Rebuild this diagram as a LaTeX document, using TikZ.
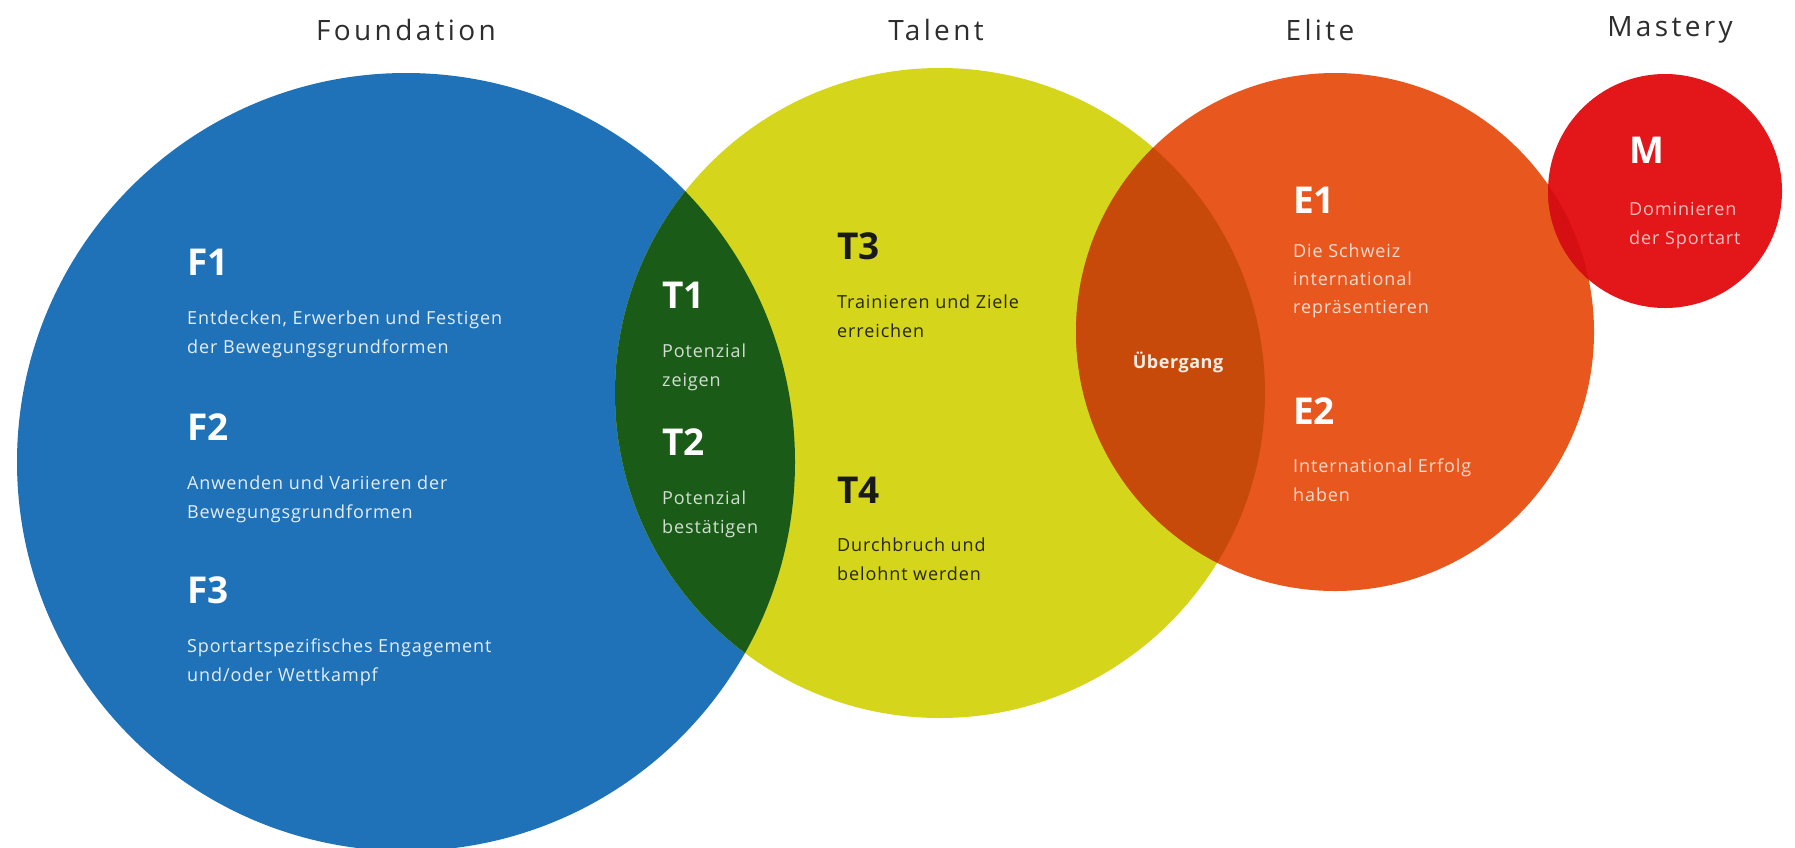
\documentclass[tikz,border=0pt]{standalone}
\usepackage{fontspec}
\setmainfont{Open Sans}
\usetikzlibrary{positioning}

\definecolor{fblue}{RGB}{31,113,184}
\definecolor{tyellow}{RGB}{213,214,27}
\definecolor{tgreen}{RGB}{26,92,23}
\definecolor{eorange}{RGB}{232,88,30}
\definecolor{eoverlap}{RGB}{200,74,10}
\definecolor{mred}{RGB}{227,22,25}
\definecolor{moverlap}{RGB}{214,16,18}
\definecolor{titlegray}{RGB}{45,45,45}

\begin{document}
\begin{tikzpicture}[x=1pt, y=-1pt,
  stage/.style={circle, fill=#1, inner sep=0pt},
  title/.style={font=\fontsize{28}{32}\selectfont\addfontfeatures{LetterSpace=12}, text=titlegray},
  code/.style={font=\fontsize{37}{40}\selectfont\bfseries, anchor=base west, inner sep=0pt, text=#1},
  desc/.style={font=\fontsize{18}{29}\selectfont\addfontfeatures{LetterSpace=5}, anchor=base west, align=left, inner sep=0pt, text=#1},
]
\useasboundingbox (0,0) rectangle (1795,847);
% Circles
\node[stage=fblue, minimum size=778pt] (found) at (406,462) {};
\node[stage=tyellow, minimum size=650pt] (talent) at (940,393) {};
\begin{scope}
  \clip (found.center) circle (389pt);
  \fill[tgreen] (talent.center) circle (325pt);
\end{scope}
\node[stage=eorange, minimum size=518pt] (elite) at (1335,332) {};
\begin{scope}
  \clip (talent.center) circle (325pt);
  \fill[eoverlap] (elite.center) circle (259pt);
\end{scope}
\node[stage=mred, minimum size=234pt] (mastery) at (1665,191) {};
\begin{scope}
  \clip (elite.center) circle (259pt);
  \fill[moverlap] (mastery.center) circle (117pt);
\end{scope}
% Titles
\node[title] (tfound) at (406,30) {Foundation};
\node[title] (ttalent) at (936,30) {Talent};
\node[title] (telite) at (1320,30) {Elite};
\node[title] (tmastery) at (1670,30) {Mastery};
% Foundation (desc nodes sit on their last line)
\node[code=white] (f1) at (187,275) {F1};
\node[desc=white!88!fblue] (f1d) at (187,353) {Entdecken, Erwerben und Festigen\\der Bewegungsgrundformen};
\node[code=white] (f2) at (187,440) {F2};
\node[desc=white!88!fblue] (f2d) at (187,518) {Anwenden und Variieren der\\Bewegungsgrundformen};
\node[code=white] (f3) at (187,603) {F3};
\node[desc=white!88!fblue] (f3d) at (187,681) {Sportartspezifisches Engagement\\und/oder Wettkampf};
% Talent
\node[code=white] (t1) at (662,308) {T1};
\node[desc=white!80!tgreen] (t1d) at (662,386) {Potenzial\\zeigen};
\node[code=white] (t2) at (662,455) {T2};
\node[desc=white!80!tgreen] (t2d) at (662,533) {Potenzial\\bestätigen};
\node[code=black!90] (t3) at (837,259) {T3};
\node[desc=black!82!tyellow] (t3d) at (837,337) {Trainieren und Ziele\\erreichen};
\node[code=black!90] (t4) at (837,503) {T4};
\node[desc=black!82!tyellow] (t4d) at (837,580) {Durchbruch und\\belohnt werden};
% Elite
\node[font=\fontsize{18}{20}\selectfont\bfseries\addfontfeatures{LetterSpace=3}, text=white!90!eoverlap] (ueber) at (1178,362) {Übergang};
\node[code=white] (e1) at (1293,213) {E1};
\node[desc=white!78!eorange, font=\fontsize{18}{28}\selectfont\addfontfeatures{LetterSpace=5}] (e1d) at (1293,313) {Die Schweiz\\international\\repräsentieren};
\node[code=white] (e2) at (1293,424) {E2};
\node[desc=white!78!eorange] (e2d) at (1293,501) {International Erfolg\\haben};
% Mastery
\node[code=white] (m) at (1629,163) {M};
\node[desc=white!72!mred] (md) at (1629,244) {Dominieren\\der Sportart};
\end{tikzpicture}
\end{document}
